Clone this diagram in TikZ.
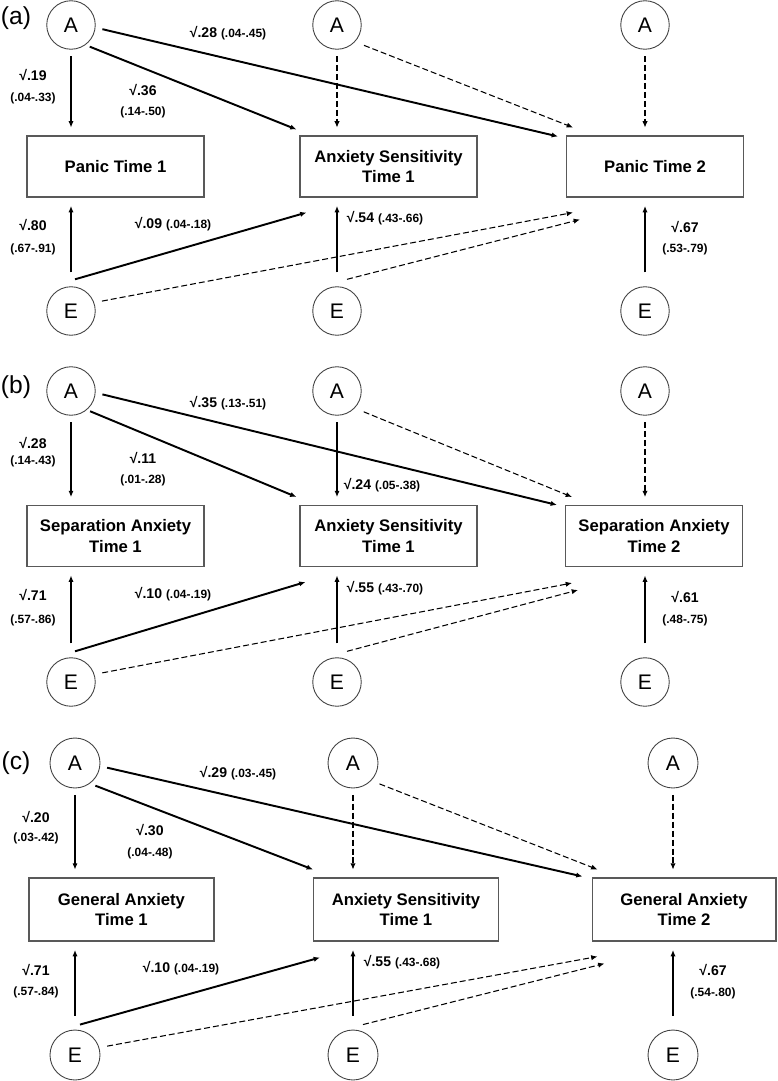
\documentclass[tikz,border=0pt]{standalone}
\usepackage{fontspec}
\setmainfont{Liberation Sans}
\usetikzlibrary{arrows.meta}
\newcommand{\cisize}{\fontsize{6.8}{8}\selectfont}

\begin{document}
\begin{tikzpicture}[x=0.02cm, y=-0.02cm,
  lat/.style={circle, draw=black!75, line width=0.5pt, minimum size=0.97cm, inner sep=0pt, font=\fontsize{12}{13}\selectfont},
  obs/.style={rectangle, draw=black!65, line width=0.6pt, minimum width=3.54cm, minimum height=1.22cm, align=center, inner sep=1pt, font=\bfseries\fontsize{9.5}{11.5}\selectfont},
  est/.style={inner sep=0pt, font=\bfseries\fontsize{8}{9}\selectfont},
  panel/.style={inner sep=0pt, font=\fontsize{14}{16}\selectfont},
  arr/.style={line width=1.1pt, -{Latex[length=3.6pt,width=3pt]}},
  darr/.style={line width=0.6pt, dash pattern=on 3.4pt off 1.7pt, -{Latex[length=3.6pt,width=3pt]}},
  fromtop/.style={shorten <=3.6pt, shorten >=4.5pt},
  frombot/.style={shorten <=8pt, shorten >=4.8pt}]
\useasboundingbox (0,0) rectangle (777,1081);

% (a) panic
\node[panel] (taga) at (16,18) {(a)};
\node[lat] (a1a) at (71,25) {A};
\node[lat] (a2a) at (337,25) {A};
\node[lat] (a3a) at (645,25) {A};
\node[obs] (p1a) at (115.5,166.5) {Panic Time 1};
\node[obs] (asa) at (388.5,166.5) {Anxiety Sensitivity\\Time 1};
\node[obs] (p2a) at (655,166.5) {Panic Time 2};
\node[lat] (e1a) at (71,311) {E};
\node[lat] (e2a) at (337,311) {E};
\node[lat] (e3a) at (645,311) {E};

\draw[arr, fromtop] (a1a.south) -- (a1a.south |- p1a.north);
\draw[arr, shorten <=2.6pt] (a1a.-54) -- ([shift={(-3,-6)}]asa.north west);
\draw[arr, shorten <=4pt] (a1a.-6) -- ([shift={(-8,1)}]p2a.north west);
\draw[darr, fromtop] (a2a.south) -- (a2a.south |- asa.north);
\draw[darr, shorten <=5.5pt] (a2a.-43) -- ([shift={(7,-8)}]p2a.north west);
\draw[darr, fromtop] (a3a.south) -- (a3a.south |- p2a.north);
\draw[arr, frombot] (e1a.north) -- (e1a.north |- p1a.south);
\draw[arr] ([shift={(4,-7)}]e1a.north) -- ([shift={(7,15)}]asa.south west);
\draw[darr, shorten <=4.5pt] (e1a.20) -- ([shift={(7,15)}]p2a.south west);
\draw[arr, frombot] (e2a.north) -- (e2a.north |- asa.south);
\draw[darr] ([shift={(10,-7)}]e2a.north) -- ([shift={(14,22)}]p2a.south west);
\draw[arr, frombot] (e3a.north) -- (e3a.north |- p2a.south);

\node[est] (l1a) at (228,33) {√.28 \cisize(.04-.45)};
\node[est] (l2a) at (33,75) {√.19};
\node[est] (l3a) at (33,98) {\cisize(.04-.33)};
\node[est] (l4a) at (143,90) {√.36};
\node[est] (l5a) at (143,112) {\cisize(.14-.50)};
\node[est] (l6a) at (33,225) {√.80};
\node[est] (l7a) at (33,249) {\cisize(.67-.91)};
\node[est] (l8a) at (173,224) {√.09 \cisize(.04-.18)};
\node[est] (l9a) at (385,218) {√.54 \cisize(.43-.66)};
\node[est] (l10a) at (685,227) {√.67};
\node[est] (l11a) at (685,249) {\cisize(.53-.79)};

% (b) separation anxiety
\node[panel] (tagb) at (16,387) {(b)};
\node[lat] (a1b) at (71,391) {A};
\node[lat] (a2b) at (337,391) {A};
\node[lat] (a3b) at (645,391) {A};
\node[obs] (s1b) at (115.5,536) {Separation Anxiety\\Time 1};
\node[obs] (asb) at (388.5,536) {Anxiety Sensitivity\\Time 1};
\node[obs] (s2b) at (654,536) {Separation Anxiety\\Time 2};
\node[lat] (e1b) at (71,682) {E};
\node[lat] (e2b) at (337,682) {E};
\node[lat] (e3b) at (645,682) {E};

\draw[arr, fromtop] (a1b.south) -- (a1b.south |- s1b.north);
\draw[arr, shorten <=2pt] (a1b.-50) -- ([shift={(-3,-8)}]asb.north west);
\draw[arr, shorten <=4pt] (a1b.-4) -- ([shift={(-8,0)}]s2b.north west);
\draw[arr, fromtop] (a2b.south) -- (a2b.south |- asb.north);
\draw[darr, shorten <=5.5pt] (a2b.-44) -- ([shift={(7,-8)}]s2b.north west);
\draw[darr, fromtop] (a3b.south) -- (a3b.south |- s2b.north);
\draw[arr, frombot] (e1b.north) -- (e1b.north |- s1b.south);
\draw[arr] ([shift={(4,-6)}]e1b.north) -- ([shift={(6,15)}]asb.south west);
\draw[darr, shorten <=4.5pt] (e1b.18) -- ([shift={(7,16)}]s2b.south west);
\draw[arr, frombot] (e2b.north) -- (e2b.north |- asb.south);
\draw[darr] ([shift={(10,-6)}]e2b.north) -- ([shift={(13,23)}]s2b.south west);
\draw[arr, frombot] (e3b.north) -- (e3b.north |- s2b.south);

\node[est] (l1b) at (228,403) {√.35 \cisize(.13-.51)};
\node[est] (l2b) at (33,443) {√.28};
\node[est] (l3b) at (33,461) {\cisize(.14-.43)};
\node[est] (l4b) at (143,458) {√.11};
\node[est] (l5b) at (143,480) {\cisize(.01-.28)};
\node[est] (l6b) at (382,485) {√.24 \cisize(.05-.38)};
\node[est] (l7b) at (33,595) {√.71};
\node[est] (l8b) at (33,620) {\cisize(.57-.86)};
\node[est] (l9b) at (173,594) {√.10 \cisize(.04-.19)};
\node[est] (l10b) at (385,588) {√.55 \cisize(.43-.70)};
\node[est] (l11b) at (685,597) {√.61};
\node[est] (l12b) at (685,620) {\cisize(.48-.75)};

% (c) general anxiety
\node[panel] (tagc) at (16,763) {(c)};
\node[lat, minimum size=1cm] (a1c) at (75,763) {A};
\node[lat, minimum size=1cm] (a2c) at (353,763) {A};
\node[lat, minimum size=1cm] (a3c) at (673,763) {A};
\node[obs, minimum width=3.7cm, minimum height=1.26cm] (g1c) at (121.5,909.5) {General Anxiety\\Time 1};
\node[obs, minimum width=3.7cm, minimum height=1.26cm] (asc) at (406,909.5) {Anxiety Sensitivity\\Time 1};
\node[obs, minimum width=3.68cm, minimum height=1.26cm] (g2c) at (684,909.5) {General Anxiety\\Time 2};
\node[lat, minimum size=1cm] (e1c) at (75,1055) {E};
\node[lat, minimum size=1cm] (e2c) at (353,1055) {E};
\node[lat, minimum size=1cm] (e3c) at (673,1055) {E};

\draw[arr, fromtop] (a1c.south) -- (a1c.south |- g1c.north);
\draw[arr, shorten <=3.3pt] (a1c.-54) -- ([shift={(0,-8)}]asc.north west);
\draw[arr, shorten <=4pt] (a1c.-7) -- ([shift={(-9,-1)}]g2c.north west);
\draw[darr, fromtop] (a2c.south) -- (a2c.south |- asc.north);
\draw[darr, shorten <=5pt] (a2c.-44) -- ([shift={(6,-8)}]g2c.north west);
\draw[darr, fromtop] (a3c.south) -- (a3c.south |- g2c.north);
\draw[arr, frombot] (e1c.north) -- (e1c.north |- g1c.south);
\draw[arr] ([shift={(5,-5)}]e1c.north) -- ([shift={(7,16)}]asc.south west);
\draw[darr, shorten <=4.5pt] (e1c.17) -- ([shift={(6,15)}]g2c.south west);
\draw[arr, frombot] (e2c.north) -- (e2c.north |- asc.south);
\draw[darr] ([shift={(10,-5)}]e2c.north) -- ([shift={(13,22)}]g2c.south west);
\draw[arr, frombot] (e3c.north) -- (e3c.north |- g2c.south);

\node[est] (l1c) at (238,773) {√.29 \cisize(.03-.45)};
\node[est] (l2c) at (36,817) {√.20};
\node[est] (l3c) at (36,838) {\cisize(.03-.42)};
\node[est] (l4c) at (150,830) {√.30};
\node[est] (l5c) at (150,853) {\cisize(.04-.48)};
\node[est] (l6c) at (36,970) {√.71};
\node[est] (l7c) at (36,992) {\cisize(.57-.84)};
\node[est] (l8c) at (181,968) {√.10 \cisize(.04-.19)};
\node[est] (l9c) at (402,962) {√.55 \cisize(.43-.68)};
\node[est] (l10c) at (713,970) {√.67};
\node[est] (l11c) at (713,993) {\cisize(.54-.80)};

\end{tikzpicture}
\end{document}
